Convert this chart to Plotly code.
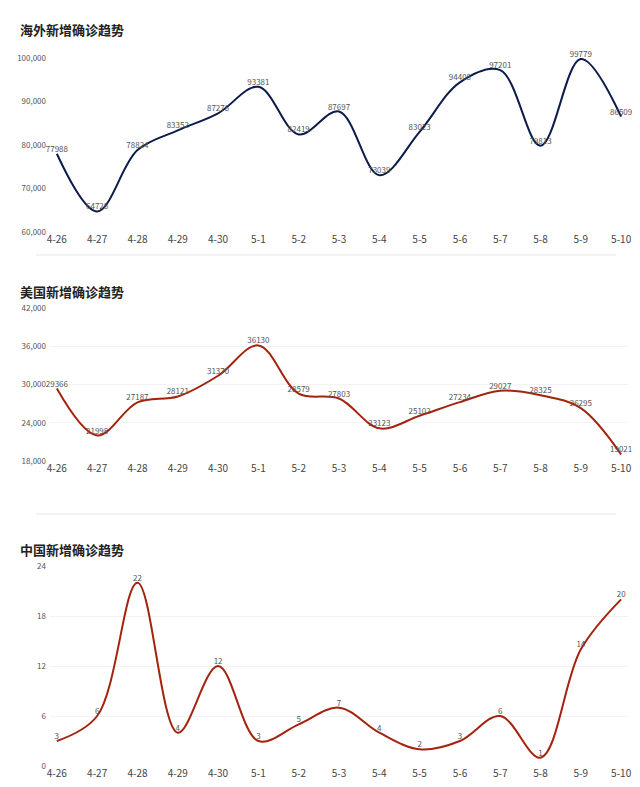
import plotly.graph_objects as go

dates = ["4-26","4-27","4-28","4-29","4-30","5-1","5-2","5-3","5-4","5-5","5-6","5-7","5-8","5-9","5-10"]
overseas = [77988,64728,78824,83352,87278,93381,82419,87697,73039,83023,94408,97201,79813,99779,86509]
usa = [29366,21998,27187,28121,31370,36130,28579,27803,23123,25102,27234,29027,28325,26295,19021]
china = [3,6,22,4,12,3,5,7,4,2,3,6,1,14,20]
titles = ["海外新增确诊趋势","美国新增确诊趋势","中国新增确诊趋势"]
colors = ["#0d1b4a","#a3230f","#a3230f"]
series = [overseas, usa, china]
yranges = [[60000,100000],[18000,42000],[0,24]]
ydtick = [10000,6000,6]
H = 787
boxes = [(50,224,22,247),(300,453,283,506),(558,758,541,785)]

fig = go.Figure()
font = "Noto Sans CJK SC, Noto Sans, sans-serif"
shapes, annots = [], []
for i in range(3):
    n = "" if i == 0 else str(i+1)
    top, bot, ty, sy = boxes[i]
    fig.add_trace(go.Scatter(x=dates, y=series[i], mode="lines+text", line=dict(color=colors[i], width=2, shape="spline", smoothing=1),
                             text=[str(v) for v in series[i]], textposition="top center",
                             textfont=dict(size=8, color="#555"), xaxis="x"+n, yaxis="y"+n, cliponaxis=False, hoverinfo="skip"))
    fig.layout["xaxis"+n] = dict(domain=[42/640, 620/640], range=[-0.17, 14.17], anchor="y"+n, showgrid=False, zeroline=False,
                                 tickfont=dict(size=10, color="#444"), showline=False, ticks="", automargin=False)
    fig.layout["yaxis"+n] = dict(domain=[1-bot/H, 1-top/H], range=yranges[i], dtick=ydtick[i], anchor="x"+n,
                                 tickformat=",", tickfont=dict(size=8, color="#555"), showgrid=(i > 0),
                                 gridcolor="#f3f3f3", zeroline=False, showline=False, automargin=False, ticklabelstandoff=3)
    annots.append(dict(text="<b>"+titles[i]+"</b>", x=10/640, y=1-ty/H, xref="paper", yref="paper", xanchor="left",
                       yanchor="middle", showarrow=False, font=dict(size=13, color="#222")))
    shapes.append(dict(type="line", xref="paper", yref="paper", x0=28/640, x1=608/640, y0=1-sy/H, y1=1-sy/H,
                       line=dict(color="#e6e6e6", width=1)))

fig.update_layout(width=640, height=787, margin=dict(l=0, r=0, t=0, b=0, autoexpand=False), showlegend=False,
                  plot_bgcolor="white", paper_bgcolor="white", font=dict(family=font),
                  shapes=shapes, annotations=annots)
fig.write_html("out.html")
